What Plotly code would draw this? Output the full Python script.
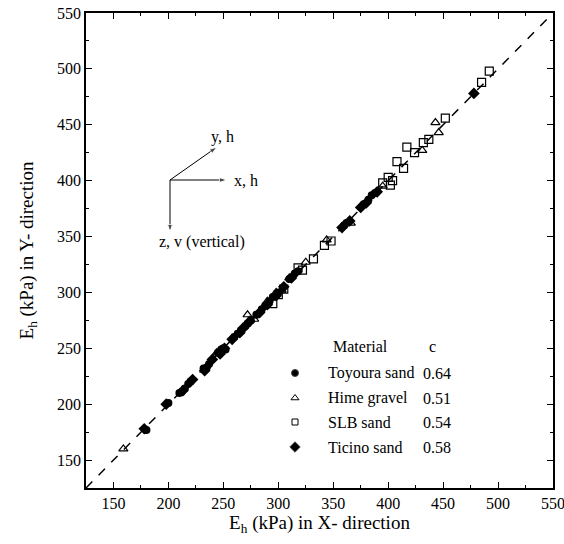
import plotly.graph_objects as go

# ---- data (E_h in X-direction, E_h in Y-direction), kPa ----
toyoura_x = [180, 200, 210, 212, 215, 218, 220, 232, 235, 237, 245, 248, 250, 252, 260, 263, 266, 270, 272, 275, 280, 285, 288, 292, 295, 300, 310, 315, 318, 360, 362, 378, 382, 385, 388]
toyoura_y = [177, 201, 210, 211, 214, 218, 220, 232, 233, 236, 246, 249, 250, 249, 260, 263, 266, 270, 272, 275, 280, 285, 288, 292, 296, 300, 312, 317, 319, 360, 362, 379, 383, 387, 389]

ticino_x = [178, 198, 213, 222, 233, 240, 247, 251, 258, 265, 268, 274, 283, 290, 298, 305, 312, 358, 365, 375, 380, 390, 478]
ticino_y = [178, 200, 212, 222, 230, 240, 245, 250, 258, 264, 268, 274, 282, 289, 297, 305, 313, 358, 364, 376, 380, 390, 478]

hime_x = [159, 244, 272, 278, 290, 298, 303, 310, 325, 344, 366, 395, 431, 443, 446]
hime_y = [160, 246, 280, 276, 292, 300, 302, 313, 327, 347, 362, 395, 427, 452, 443]

slb_x = [295, 300, 305, 318, 322, 332, 342, 348, 395, 400, 402, 404, 408, 414, 417, 424, 432, 437, 452, 485, 492]
slb_y = [290, 298, 303, 322, 320, 330, 342, 346, 398, 403, 396, 400, 417, 411, 430, 425, 434, 437, 456, 488, 498]

line_xy = [125, 550]
tick_vals = [150, 200, 250, 300, 350, 400, 450, 500, 550]

materials = ["Toyoura sand", "Hime gravel", "SLB sand", "Ticino sand"]
c_values = ["0.64", "0.51", "0.54", "0.58"]

FONT = "Liberation Serif"

fig = go.Figure()
fig.add_trace(go.Scatter(x=line_xy, y=line_xy, mode="lines",
                         line=dict(color="black", width=1.5, dash="dash"),
                         showlegend=False, hoverinfo="skip"))
fig.add_trace(go.Scatter(x=toyoura_x, y=toyoura_y, mode="markers", name="Toyoura sand",
                         marker=dict(symbol="circle", size=8, color="black")))
fig.add_trace(go.Scatter(x=ticino_x, y=ticino_y, mode="markers", name="Ticino sand",
                         marker=dict(symbol="diamond", size=9, color="black")))
fig.add_trace(go.Scatter(x=hime_x, y=hime_y, mode="markers", name="Hime gravel",
                         marker=dict(symbol="triangle-up-open", size=8, color="black",
                                     line=dict(width=1.2))))
fig.add_trace(go.Scatter(x=slb_x, y=slb_y, mode="markers", name="SLB sand",
                         marker=dict(symbol="square-open", size=8, color="black",
                                     line=dict(width=1.2))))

axis_common = dict(range=[125, 550], tickvals=tick_vals, ticks="inside", ticklen=6,
                   tickwidth=1.2, tickcolor="black", showline=True, linecolor="black",
                   linewidth=1.5, mirror="ticks", showgrid=False, zeroline=False,
                   automargin=False, ticklabeloverflow="allow",
                   tickfont=dict(family=FONT, size=16, color="black"),
                   minor=dict(ticks="inside", ticklen=3, tickcolor="black", dtick=25, tick0=125))

fig.update_layout(
    width=564, height=544,
    margin=dict(l=86, r=11, t=13, b=56),
    paper_bgcolor="white", plot_bgcolor="white",
    showlegend=False,
    font=dict(family=FONT, color="black"),
    xaxis=dict(**axis_common,
               title=dict(text="E<sub>h</sub> (kPa) in X- direction",
                          font=dict(family=FONT, size=19, color="black"), standoff=4)),
    yaxis=dict(**axis_common,
               title=dict(text="E<sub>h</sub> (kPa) in Y- direction",
                          font=dict(family=FONT, size=19, color="black"), standoff=18)),
)

def px_x(p):
    return (p - 86) / 467

def px_y(p):
    return (488 - p) / 475

# coordinate-system sketch arrows (overlay axes in paper units)
origin = (170, 180)
for hx, hy in [(227, 180), (217, 147), (170, 232)]:
    fig.add_trace(go.Scatter(x=[px_x(origin[0]), px_x(hx)], y=[px_y(origin[1]), px_y(hy)],
                             xaxis="x2", yaxis="y2", mode="lines+markers",
                             showlegend=False, hoverinfo="skip",
                             line=dict(color="black", width=1),
                             marker=dict(symbol="arrow", size=[0, 8], color="black",
                                         angleref="previous")))

anns = []
for txt, x, y, xa in [("x, h", 232, 180, "left"), ("y, h", 209, 137, "left"),
                      ("z, v (vertical)", 202, 242, "center")]:
    anns.append(dict(xref="paper", yref="paper", x=px_x(x), y=px_y(y), text=txt,
                     showarrow=False, xanchor=xa, yanchor="middle",
                     font=dict(family=FONT, size=16, color="black")))

# legend table
LF = 16
anns.append(dict(xref="paper", yref="paper", x=px_x(331), y=px_y(346), text="Material",
                 showarrow=False, xanchor="left", yanchor="middle",
                 font=dict(family=FONT, size=LF, color="black")))
anns.append(dict(xref="paper", yref="paper", x=px_x(427), y=px_y(346), text="c",
                 showarrow=False, xanchor="left", yanchor="middle",
                 font=dict(family=FONT, size=LF, color="black")))
row_y = [373, 398, 422, 447]
for m, c, ry in zip(materials, c_values, row_y):
    anns.append(dict(xref="paper", yref="paper", x=px_x(326), y=px_y(ry), text=m,
                     showarrow=False, xanchor="left", yanchor="middle",
                     font=dict(family=FONT, size=LF, color="black")))
    anns.append(dict(xref="paper", yref="paper", x=px_x(421), y=px_y(ry), text=c,
                     showarrow=False, xanchor="left", yanchor="middle",
                     font=dict(family=FONT, size=LF, color="black")))
fig.update_layout(annotations=anns)

# legend symbols
sym = ["circle", "triangle-up-open", "square-open", "diamond"]
sizes = [7, 7, 6, 8]
for s, sz, ry in zip(sym, sizes, row_y):
    fig.add_trace(go.Scatter(x=[px_x(295)], y=[px_y(ry)], xaxis="x2", yaxis="y2",
                             mode="markers", showlegend=False, hoverinfo="skip",
                             marker=dict(symbol=s, size=sz, color="black", line=dict(width=1))))
fig.update_layout(
    xaxis2=dict(range=[0, 1], overlaying="x", visible=False),
    yaxis2=dict(range=[0, 1], overlaying="y", visible=False),
)

fig.write_html("out.html")
